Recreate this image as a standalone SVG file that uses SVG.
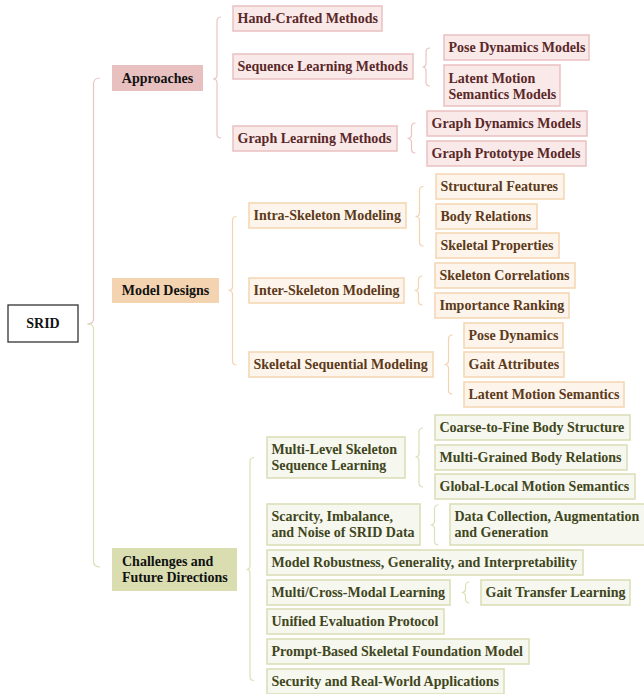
<svg xmlns="http://www.w3.org/2000/svg" width="644" height="694" viewBox="0 0 644 694">
<style>
text{font-family:"Liberation Serif","Times New Roman",serif;font-weight:bold;font-size:14px}
.root rect{fill:#fff;stroke:#333;stroke-width:1.3}
.root text,.par text{fill:#111}
.pA rect{fill:#e8c0c0;stroke:none}
.pM rect{fill:#f4d4b0;stroke:none}
.pC rect{fill:#d9ddb0;stroke:none}
.a rect{fill:#f9e9e9;stroke:#ecc4c4;stroke-width:1.6}
.a text{fill:#5a2828}
.m rect{fill:#fdf4eb;stroke:#f5d7b5;stroke-width:1.6}
.m text{fill:#5c3a1a}
.c rect{fill:#f6f7ef;stroke:#dcdfb8;stroke-width:1.6}
.c text{fill:#3f4620}
.br path{fill:none;stroke-width:1.2}
.bA{stroke:#eac4c4}
.bM{stroke:#f4d3b0}
.bC{stroke:#dcdfb5}
</style>
<g id="connectors" class="br">
<path class="bA" d="M100,78 Q93.5,78 93.5,84 L93.5,319 Q93.5,324 87.5,324"/>
<path class="bC" d="M87.5,324 Q93.5,324 93.5,329 L93.5,561 Q93.5,567 100,567"/>
<path class="bA" d="M221,17 Q217,17 217,21 L217,75 Q217,79 213,79 Q217,79 217,83 L217,134 Q217,138 221,138"/>
<path class="bA" d="M430,48 Q426,48 426,52 L426,63 Q426,67 422.5,67 Q426,67 426,71 L426,82 Q426,86 430,86"/>
<path class="bA" d="M415.5,123 Q411.5,123 411.5,127 L411.5,134.5 Q411.5,138.5 407.5,138.5 Q411.5,138.5 411.5,142.5 L411.5,149 Q411.5,153 415.5,153"/>
<path class="bM" d="M236.5,216.5 Q232.5,216.5 232.5,220.5 L232.5,286.5 Q232.5,290.5 228.5,290.5 Q232.5,290.5 232.5,294.5 L232.5,361 Q232.5,365 236.5,365"/>
<path class="bM" d="M423.5,186.5 Q419.5,186.5 419.5,190.5 L419.5,212.5 Q419.5,216.5 415.5,216.5 Q419.5,216.5 419.5,220.5 L419.5,242 Q419.5,246 423.5,246"/>
<path class="bM" d="M422.5,276 Q418.5,276 418.5,280 L418.5,286.5 Q418.5,290.5 414.5,290.5 Q418.5,290.5 418.5,294.5 L418.5,301 Q418.5,305 422.5,305"/>
<path class="bM" d="M452.5,335 Q448.5,335 448.5,339 L448.5,360.5 Q448.5,364.5 444.5,364.5 Q448.5,364.5 448.5,368.5 L448.5,390 Q448.5,394 452.5,394"/>
<path class="bC" d="M254,457.5 Q250,457.5 250,461.5 L250,565.5 Q250,569.5 246.5,569.5 Q250,569.5 250,573.5 L250,676.5 Q250,680.5 254,680.5"/>
<path class="bC" d="M423,428 Q419,428 419,432 L419,453 Q419,457 415.5,457 Q419,457 419,461 L419,483 Q419,487 423,487"/>
<path class="bC" d="M438.5,505 Q434.5,505 434.5,509 L434.5,521 Q434.5,525 430.5,525 Q434.5,525 434.5,529 L434.5,541 Q434.5,545 438.5,545"/>
<path class="bC" d="M469.5,582 Q465.5,582 465.5,586 L465.5,588.5 Q465.5,592.5 461.5,592.5 Q465.5,592.5 465.5,596.5 L465.5,599 Q465.5,603 469.5,603"/>
</g>
<g id="srid" class="root"><rect x="8" y="305" width="70" height="37"/><text x="43" y="328" text-anchor="middle">SRID</text></g>
<g id="approaches" class="par pA"><rect x="112" y="65" width="91" height="26"/><text x="157.5" y="82.5" text-anchor="middle">Approaches</text></g>
<g id="model-designs" class="par pM"><rect x="112" y="278" width="107" height="25"/><text x="165.5" y="295" text-anchor="middle">Model Designs</text></g>
<g id="challenges" class="par pC"><rect x="112" y="548" width="125" height="43"/><text x="122" y="566">Challenges and</text><text x="122" y="582">Future Directions</text></g>

<g id="hand-crafted" class="a"><rect x="233" y="6" width="149" height="25"/><text x="237.5" y="23">Hand-Crafted Methods</text></g>
<g id="sequence-learning" class="a"><rect x="233" y="54" width="180" height="25"/><text x="237.5" y="71">Sequence Learning Methods</text></g>
<g id="graph-learning" class="a"><rect x="233" y="126" width="164" height="25"/><text x="237.5" y="143">Graph Learning Methods</text></g>
<g id="pose-dynamics-models" class="a"><rect x="444" y="35" width="145" height="25"/><text x="448.5" y="52">Pose Dynamics Models</text></g>
<g id="latent-motion-models" class="a"><rect x="444" y="65" width="116" height="41"/><text x="448.5" y="82.5">Latent Motion</text><text x="448.5" y="98.5">Semantics Models</text></g>
<g id="graph-dynamics" class="a"><rect x="427" y="111" width="160" height="25"/><text x="431.5" y="128">Graph Dynamics Models</text></g>
<g id="graph-prototype" class="a"><rect x="427" y="141" width="159" height="25"/><text x="431.5" y="158">Graph Prototype Models</text></g>

<g id="intra" class="m"><rect x="249" y="203" width="157" height="25"/><text x="253.5" y="220">Intra-Skeleton Modeling</text></g>
<g id="inter" class="m"><rect x="249" y="278" width="155" height="25"/><text x="253.5" y="295">Inter-Skeleton Modeling</text></g>
<g id="sequential" class="m"><rect x="249" y="352" width="184" height="25"/><text x="253.5" y="369">Skeletal Sequential Modeling</text></g>
<g id="structural" class="m"><rect x="436" y="174" width="128" height="25"/><text x="440.5" y="191">Structural Features</text></g>
<g id="body-relations" class="m"><rect x="436" y="204" width="101" height="25"/><text x="440.5" y="221">Body Relations</text></g>
<g id="skeletal-properties" class="m"><rect x="436" y="233" width="123" height="25"/><text x="440.5" y="250">Skeletal Properties</text></g>
<g id="skeleton-correlations" class="m"><rect x="435" y="263" width="140" height="25"/><text x="439.5" y="280">Skeleton Correlations</text></g>
<g id="importance-ranking" class="m"><rect x="435" y="293" width="134" height="25"/><text x="439.5" y="310">Importance Ranking</text></g>
<g id="pose-dynamics" class="m"><rect x="464" y="323" width="99" height="25"/><text x="468.5" y="340">Pose Dynamics</text></g>
<g id="gait-attributes" class="m"><rect x="464" y="352" width="100" height="25"/><text x="468.5" y="369">Gait Attributes</text></g>
<g id="latent-motion-semantics" class="m"><rect x="464" y="382" width="160" height="25"/><text x="468.5" y="399">Latent Motion Semantics</text></g>

<g id="multi-level" class="c"><rect x="267" y="437" width="138" height="41"/><text x="271.5" y="453.5">Multi-Level Skeleton</text><text x="271.5" y="469.5">Sequence Learning</text></g>
<g id="scarcity" class="c"><rect x="267" y="504" width="153" height="41"/><text x="271.5" y="520.5">Scarcity, Imbalance,</text><text x="271.5" y="536.5">and Noise of SRID Data</text></g>
<g id="robustness" class="c"><rect x="267" y="550" width="316" height="25"/><text x="271.5" y="567">Model Robustness, Generality, and Interpretability</text></g>
<g id="multi-cross" class="c"><rect x="267" y="580" width="183" height="25"/><text x="271.5" y="597">Multi/Cross-Modal Learning</text></g>
<g id="unified" class="c"><rect x="267" y="609" width="177" height="25"/><text x="271.5" y="626">Unified Evaluation Protocol</text></g>
<g id="prompt" class="c"><rect x="267" y="639" width="262" height="25"/><text x="271.5" y="656">Prompt-Based Skeletal Foundation Model</text></g>
<g id="security" class="c"><rect x="267" y="669" width="237" height="25"/><text x="271.5" y="686">Security and Real-World Applications</text></g>
<g id="coarse-to-fine" class="c"><rect x="435" y="415" width="195" height="25"/><text x="439.5" y="432">Coarse-to-Fine Body Structure</text></g>
<g id="multi-grained" class="c"><rect x="435" y="445" width="192" height="25"/><text x="439.5" y="462">Multi-Grained Body Relations</text></g>
<g id="global-local" class="c"><rect x="435" y="474" width="200" height="25"/><text x="439.5" y="491">Global-Local Motion Semantics</text></g>
<g id="data-collection" class="c"><rect x="450" y="504" width="200" height="41"/><text x="454.5" y="520.5">Data Collection, Augmentation</text><text x="454.5" y="536.5">and Generation</text></g>
<g id="gait-transfer" class="c"><rect x="481" y="580" width="149" height="25"/><text x="485.5" y="597">Gait Transfer Learning</text></g>
</svg>
